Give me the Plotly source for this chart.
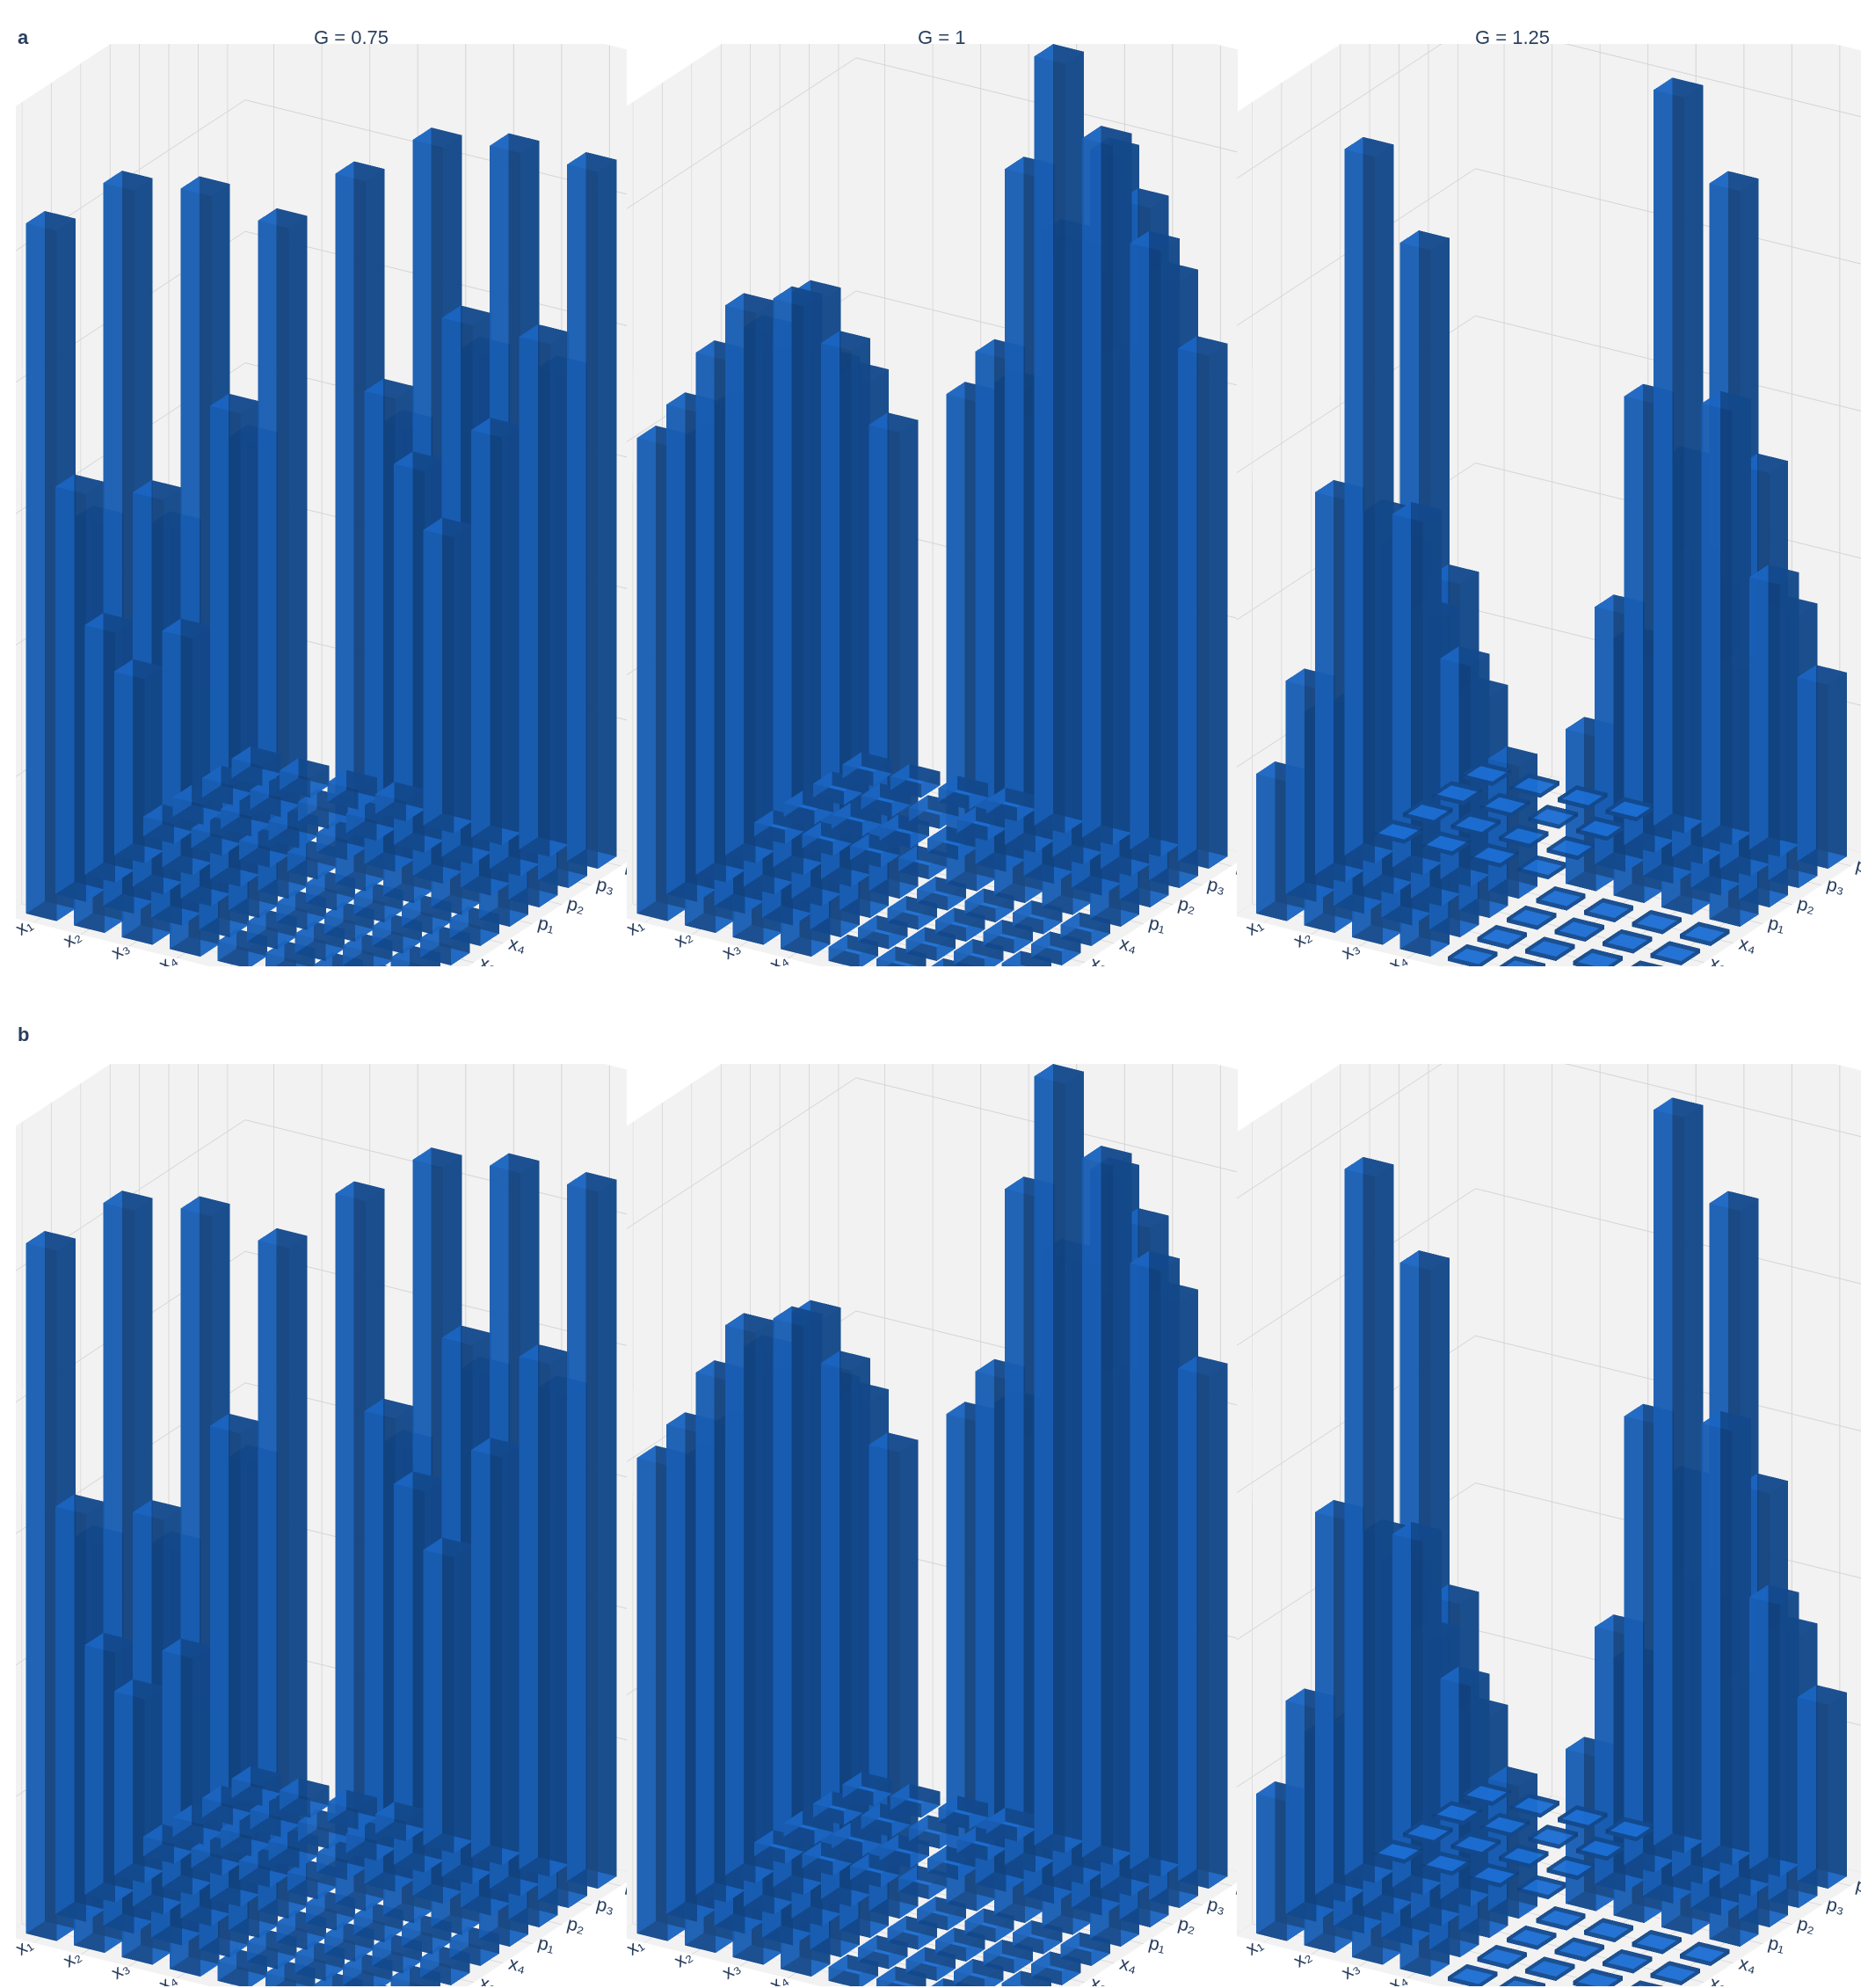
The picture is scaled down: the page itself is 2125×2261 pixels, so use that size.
import plotly.graph_objects as go

LABELS = ['x₁', 'x₂', 'x₃', 'x₄', 'p₁', 'p₂', 'p₃', 'p₄']
GAINS = ['G = 0.75', 'G = 1', 'G = 1.25']

# 4x4 blocks (xx and pp), off-diagonal xp blocks small
XX_075 = [[1.05, 0.62, 0.38, 0.28], [0.62, 1.10, 0.60, 0.36], [0.38, 0.60, 1.08, 0.72], [0.28, 0.36, 0.72, 1.02]]
PP_075 = [[1.08, 0.72, 0.58, 0.45], [0.72, 1.12, 0.82, 0.62], [0.58, 0.82, 1.10, 0.78], [0.45, 0.62, 0.78, 1.06]]
XX_1 = [[1.02, 1.05, 1.12, 1.18], [1.05, 1.08, 1.20, 1.22], [1.12, 1.20, 1.30, 1.15], [1.18, 1.22, 1.15, 1.00]]
PP_1 = [[1.05, 1.10, 1.45, 1.65], [1.10, 0.98, 1.30, 1.50], [1.45, 1.30, 1.10, 1.30], [1.65, 1.50, 1.30, 1.10]]
XX_125 = [[0.95, 1.45, 2.60, 4.80], [1.45, 1.40, 2.55, 2.40], [2.60, 2.55, 1.95, 1.50], [4.80, 2.40, 1.50, 0.90]]
PP_125 = [[1.05, 1.75, 3.05, 5.00], [1.75, 1.45, 2.05, 2.95], [3.05, 2.05, 1.40, 1.85], [5.00, 2.95, 1.85, 1.25]]
XP_SMALL = 0.03

BLOCKS = [(XX_075, PP_075), (XX_1, PP_1), (XX_125, PP_125)]
ZTICKS = [[0, 0.2, 0.4, 0.6, 0.8, 1.0], [0, 0.5, 1.0, 1.5], [0, 1, 2, 3, 4, 5]]
ZMAX = [1.22, 1.72, 5.45]


def full_matrix(xx, pp):
    m = [[XP_SMALL] * 8 for _ in range(8)]
    for j in range(4):
        for k in range(4):
            m[j][k] = xx[j][k]
            m[j + 4][k + 4] = pp[j][k]
    return m


def bars(m, scene):
    vx, vy, vz, I, J, K = [], [], [], [], [], []
    w = 0.32
    faces = [(0, 1, 2), (0, 2, 3), (4, 5, 6), (4, 6, 7), (0, 1, 5), (0, 5, 4),
             (1, 2, 6), (1, 6, 5), (2, 3, 7), (2, 7, 6), (3, 0, 4), (3, 4, 7)]
    for j in range(8):
        for k in range(8):
            h = m[j][k]
            x0, x1, y0, y1 = k - w, k + w, j - w, j + w
            b = len(vx)
            for zz in (0, h):
                for xx, yy in ((x0, y0), (x1, y0), (x1, y1), (x0, y1)):
                    vx.append(xx); vy.append(yy); vz.append(zz)
            for a, c, d in faces:
                I.append(b + a); J.append(b + c); K.append(b + d)
    return go.Mesh3d(x=vx, y=vy, z=vz, i=I, j=J, k=K, color='#1f78e6', opacity=0.8,
                     flatshading=True, lighting=dict(ambient=0.55, diffuse=0.7, specular=0.05),
                     hoverinfo='skip', scene=scene)


fig = go.Figure()
layout = {}
cols = [(0.0, 0.33), (0.33, 0.66), (0.66, 1.0)]
rows = [(0.52, 0.99), (0.0, 0.47)]
n = 0
for r in range(2):
    for c in range(3):
        n += 1
        name = 'scene' if n == 1 else 'scene%d' % n
        fig.add_trace(bars(full_matrix(BLOCKS[c][0], BLOCKS[c][1]), name))
        ax = dict(showbackground=True, backgroundcolor='#f2f2f2', gridcolor='#d4d4d4',
                  showspikes=False, title='', tickfont=dict(size=16, family='Arial'))
        layout[name] = dict(
            domain=dict(x=cols[c], y=rows[r]),
            xaxis=dict(ax, tickvals=list(range(8)), ticktext=LABELS, range=[-0.6, 7.6]),
            yaxis=dict(ax, tickvals=list(range(8)), ticktext=LABELS, range=[-0.6, 7.6]),
            zaxis=dict(ax, tickvals=ZTICKS[c], range=[0, ZMAX[c]],
                       title=dict(text='Response (γχjk)²/4' if c == 2 else '',
                                  font=dict(size=18, family='Arial'))),
            aspectmode='manual', aspectratio=dict(x=1, y=1, z=1.9),
            camera=dict(eye=dict(x=0.95, y=-1.55, z=0.75), center=dict(x=0, y=0, z=-0.05),
                        projection=dict(type='orthographic')),
        )

fig.update_layout(**layout)
ann = []
for c, g in enumerate(GAINS):
    ann.append(dict(text=g, x=[0.16, 0.5, 0.83][c], y=1.0, xref='paper', yref='paper',
                    showarrow=False, font=dict(size=22, family='Arial')))
ann.append(dict(text='<b>a</b>', x=0.0, y=1.0, xref='paper', yref='paper', showarrow=False,
                font=dict(size=22, family='Arial')))
ann.append(dict(text='<b>b</b>', x=0.0, y=0.485, xref='paper', yref='paper', showarrow=False,
                font=dict(size=22, family='Arial')))
fig.update_layout(annotations=ann, width=2125, height=2261, showlegend=False,
                  paper_bgcolor='white', margin=dict(l=10, r=10, t=20, b=10))
fig.write_html('out.html')
